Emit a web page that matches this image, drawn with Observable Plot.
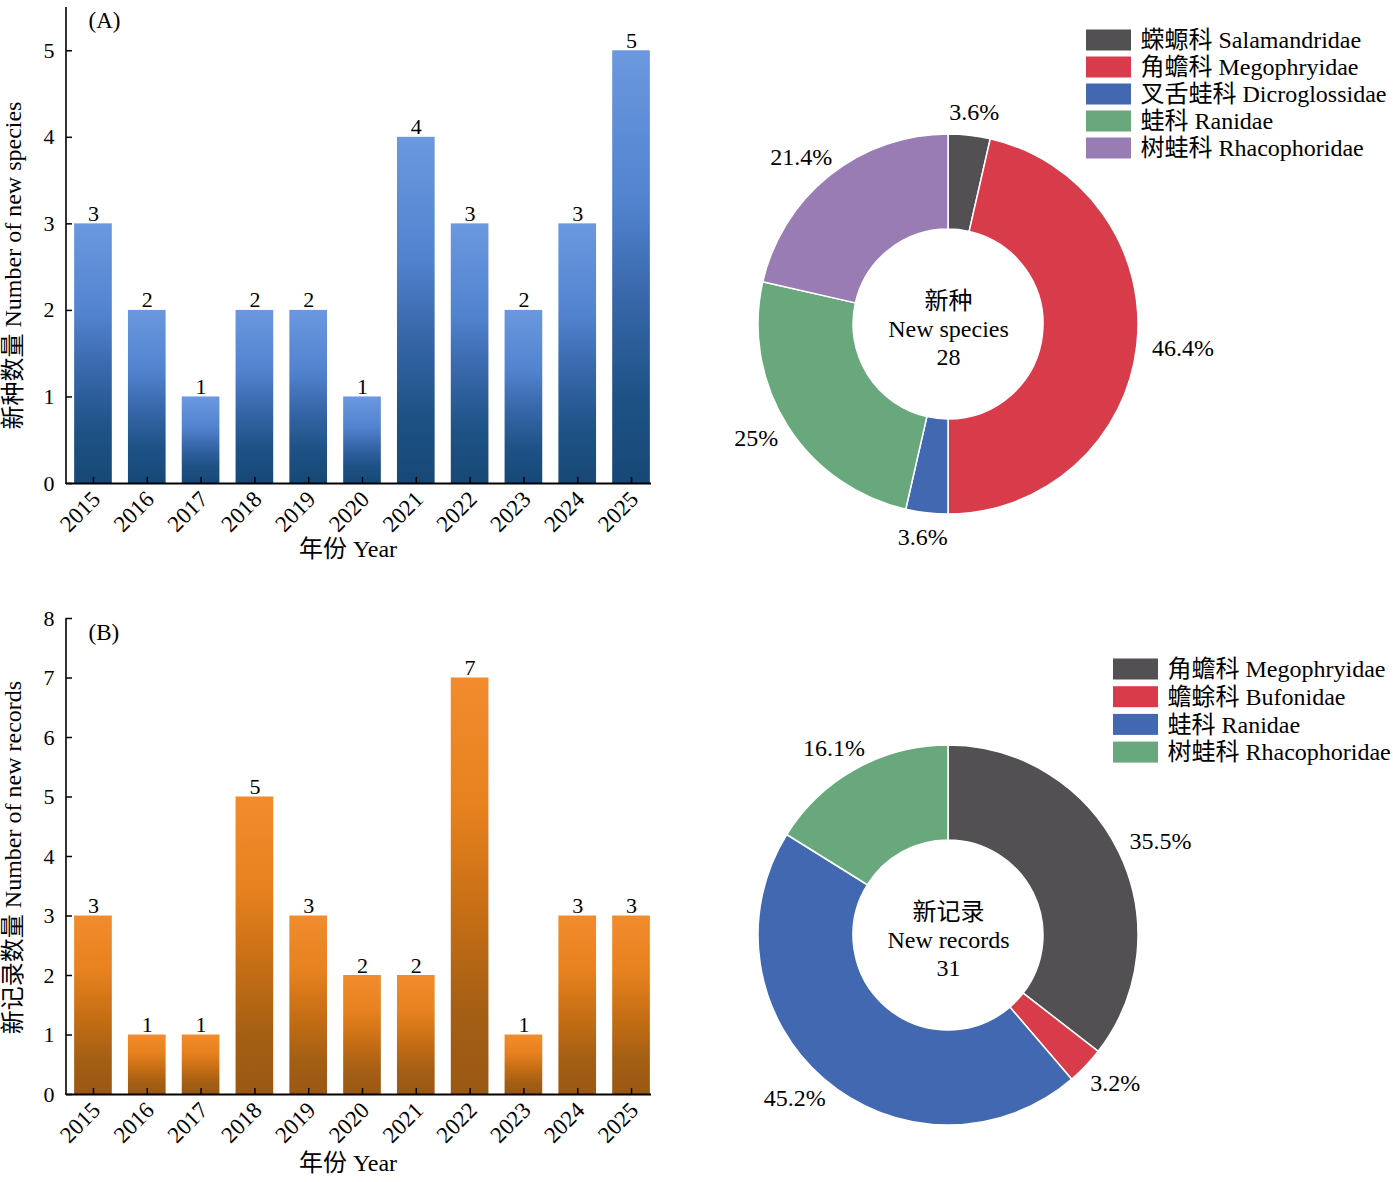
<!DOCTYPE html>
<html><head><meta charset="utf-8">
<script src="https://cdn.jsdelivr.net/npm/d3@7"></script>
<script src="https://cdn.jsdelivr.net/npm/@observablehq/plot@0.6"></script>
<style>
body{margin:0;background:#fff}
#root{position:relative;width:1393px;height:1182px;background:#fff;overflow:hidden}
#root svg{position:absolute;}
</style></head><body><div id="root"></div>
<script>
const FONT = "'Liberation Serif','Times New Roman','Noto Sans CJK SC',serif";

// ---- data ----
const years = ["2015","2016","2017","2018","2019","2020","2021","2022","2023","2024","2025"];
const newSpeciesCounts = [3,2,1,2,2,1,4,3,2,3,5];
const newRecordCounts  = [3,1,1,5,3,2,2,7,1,3,3];
const speciesYTicks = [0,1,2,3,4,5];
const recordYTicks  = [0,1,2,3,4,5,6,7,8];

const speciesFamilies = ["蝾螈科 Salamandridae","角蟾科 Megophryidae","叉舌蛙科 Dicroglossidae","蛙科 Ranidae","树蛙科 Rhacophoridae"];
const speciesFamilyCounts = [1,13,1,7,6];
const speciesColors = ["#525052","#d83c4a","#4268b1","#69a87c","#9a7cb4"];
const speciesCenter = ["新种","New species","28"];

const recordFamilies = ["角蟾科 Megophryidae","蟾蜍科 Bufonidae","蛙科 Ranidae","树蛙科 Rhacophoridae"];
const recordFamilyCounts = [11,1,14,5];
const recordColors = ["#525052","#d83c4a","#4268b1","#69a87c"];
const recordCenter = ["新记录","New records","31"];

const blueStops = [[0,"#6b98df"],[0.35,"#5283cf"],[0.55,"#3a69ad"],[0.8,"#1e5286"],[1,"#174876"]];
const orangeStops = [[0,"#f18b2d"],[0.3,"#e8821f"],[0.55,"#c86f15"],[0.8,"#a55f14"],[1,"#9a5814"]];

const root = document.getElementById("root");

function gradientMark(id, stops) {
  return () => {
    const defs = d3.create("svg:defs");
    const g = defs.append("linearGradient").attr("id", id)
      .attr("x1", 0).attr("y1", 0).attr("x2", 0).attr("y2", 1);
    for (const [o, c] of stops) g.append("stop").attr("offset", o).attr("stop-color", c);
    return defs.node();
  };
}

function barChart(o) {
  const W = 700, mL = 66, mR = 49;
  const plotW = W - mL - mR, plotH = o.height - o.marginTop - o.marginBottom;
  const data = years.map((y, i) => ({year: y, n: o.counts[i]}));
  const svg = Plot.plot({
    width: W, height: o.height,
    marginLeft: mL, marginRight: mR, marginTop: o.marginTop, marginBottom: o.marginBottom,
    style: {fontFamily: FONT, fontSize: "22px", color: "#000", background: "transparent", overflow: "visible"},
    x: {domain: years, range: [58, 666], padding: 0.3, round: false, label: null, axis: null},
    y: {domain: [0, o.yMax], label: null, axis: null},
    marks: [
      gradientMark(o.gradId, o.stops),
      Plot.barY(data, {x: "year", y: "n", fill: `url(#${o.gradId})`}),
      Plot.text(data, {x: "year", y: "n", text: d => String(d.n), lineAnchor: "bottom", dy: -3, fontSize: 22, fill: "#000"}),
      Plot.axisY(o.yTicks, {tickSize: 0, tickPadding: 12, fontSize: 22, label: null, tickFormat: d => String(d)}),
      Plot.tickY(o.yTicks, {y: d => d, insetRight: plotW - 6, stroke: "#000", strokeWidth: 1.5}),
      Plot.axisX({tickSize: 0, tickRotate: -45, tickPadding: 12, dx: 3, fontSize: 23, label: null}),
      Plot.tickX(years, {x: d => d, insetTop: plotH - 6, stroke: "#000", strokeWidth: 1.5}),
      Plot.ruleY([0], {stroke: "#000", strokeWidth: 1.8}),
      (index, scales, values, dims) => d3.create("svg:line")
        .attr("x1", dims.marginLeft).attr("x2", dims.marginLeft)
        .attr("y1", dims.marginTop).attr("y2", dims.height - dims.marginBottom + 0.9)
        .attr("stroke", "#000").attr("stroke-width", 1.6).node(),
      Plot.text([o.yLabel], {frameAnchor: "left", textAnchor: "middle", rotate: -90, dx: -53, dy: o.yLabelDy, fontSize: 24, fill: "#000"}),
      Plot.text(["年份 Year"], {frameAnchor: "bottom", dx: -11, dy: o.xLabelDy, fontSize: 24, fill: "#000"}),
      Plot.text([o.tag], {frameAnchor: "top-left", textAnchor: "start", dx: 22, dy: o.tagDy, fontSize: 23, fill: "#000"})
    ]
  });
  svg.style.left = "0px";
  svg.style.top = o.top + "px";
  root.appendChild(svg);
}

function textWidth(s, size) {
  let w = 0;
  for (const ch of s) w += ch === "." ? 0.25 : ch === "%" ? 0.833 : 0.5;
  return w * size;
}

function donut(o) {
  const total = d3.sum(o.counts);
  const fmt = d3.format(".1~%");
  const items = o.families.map((f, i) => ({family: f, n: o.counts[i], color: o.colors[i], idx: i}));
  const arcs = d3.pie().sort(null).value(d => d.n)(items);
  const R = 205, fs = 24;
  const labels = arcs.map(a => {
    const t = (a.startAngle + a.endAngle) / 2;
    const s = Math.sin(t), c = Math.cos(t);
    const txt = fmt(a.data.n / total);
    const w = textWidth(txt, fs);
    return {text: txt, x: o.cx + R * s + (w / 2) * s, y: o.cy - R * c - 9 * c};
  });
  const centerLines = o.center.map((t, i) => ({text: t, x: o.cx, y: o.cy - 23 + i * 28}));
  const legend = items.map((d, i) => ({...d, y: o.legendY + i * o.legendStep}));
  const svg = Plot.plot({
    width: 700, height: o.height, margin: 0,
    style: {fontFamily: FONT, fontSize: "24px", color: "#000", background: "transparent", overflow: "visible"},
    x: {type: "identity", axis: null},
    y: {type: "identity", axis: null},
    color: {type: "identity"},
    marks: [
      (index, scales) => {
        const sx = scales.x || (v => v), sy = scales.y || (v => v);
        const g = d3.create("svg:g").attr("transform", `translate(${sx(o.cx)},${sy(o.cy)})`);
        const arc = d3.arc().innerRadius(95).outerRadius(190);
        g.selectAll("path").data(arcs).join("path")
          .attr("d", arc).attr("fill", d => d.data.color)
          .attr("stroke", "#fff").attr("stroke-width", 1.5).attr("stroke-linejoin", "round");
        return g.node();
      },
      Plot.text(labels, {x: "x", y: "y", text: "text", fontSize: fs, fill: "#000"}),
      Plot.text(centerLines, {x: "x", y: "y", text: "text", fontSize: fs, fill: "#000"}),
      Plot.rect(legend, {x1: o.legendX, x2: o.legendX + 45, y1: d => d.y - 10.5, y2: d => d.y + 10.5, fill: "color"}),
      Plot.text(legend, {x: o.legendX + 54, y: "y", text: "family", textAnchor: "start", fontSize: 24, fill: "#000"})
    ]
  });
  svg.style.left = "693px";
  svg.style.top = o.top + "px";
  root.appendChild(svg);
}

barChart({counts: newSpeciesCounts, yMax: 5.5, yTicks: speciesYTicks, gradId: "gradA", stops: blueStops,
  yLabel: "新种数量 Number of new species", tag: "(A)", top: 0, height: 590, marginTop: 7, marginBottom: 107,
  yLabelDy: 20, xLabelDy: 73, tagDy: 4});
barChart({counts: newRecordCounts, yMax: 8, yTicks: recordYTicks, gradId: "gradB", stops: orangeStops,
  yLabel: "新记录数量 Number of new records", tag: "(B)", top: 590, height: 592, marginTop: 28, marginBottom: 88,
  yLabelDy: 1, xLabelDy: 76, tagDy: 5});

donut({families: speciesFamilies, counts: speciesFamilyCounts, colors: speciesColors, center: speciesCenter,
  top: 0, height: 590, cx: 255, cy: 324, legendX: 393, legendY: 40, legendStep: 27});
donut({families: recordFamilies, counts: recordFamilyCounts, colors: recordColors, center: recordCenter,
  top: 590, height: 592, cx: 255, cy: 345, legendX: 420, legendY: 79, legendStep: 27.7});
</script></body></html>
